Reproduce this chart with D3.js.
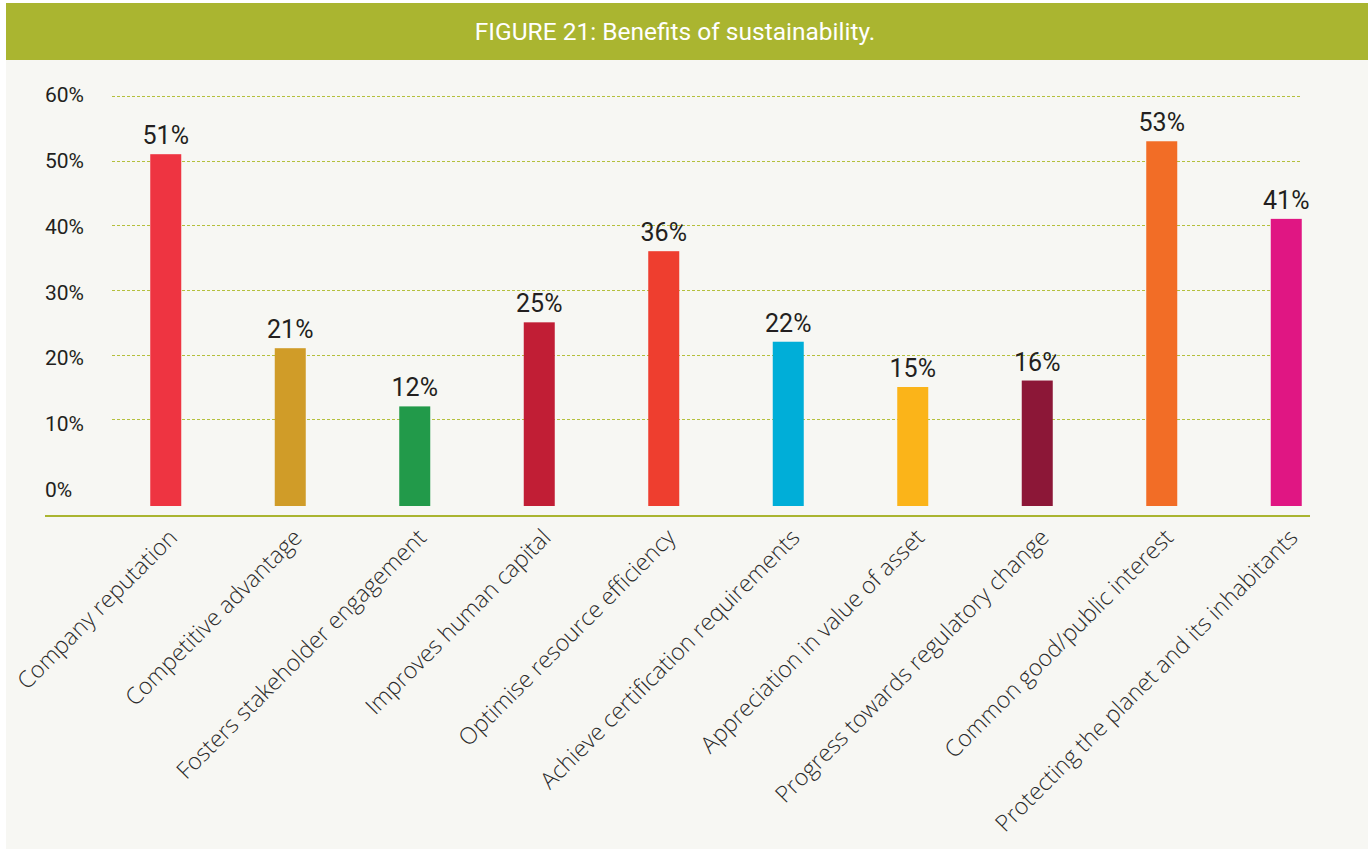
<!DOCTYPE html>
<html>
<head>
    <title>Benefits of sustainability</title>
    <style>
        body {
            margin: 0;
            background: #fff;
        }
        .grid line {
            stroke: #b4c03c;
            stroke-width: 1;
            stroke-dasharray: 3, 2;
        }
        .tick-label {
            font-family: Roboto, sans-serif;
            font-size: 21px;
            fill: #231f20;
        }
        .value-label {
            font-family: Roboto, sans-serif;
            font-size: 25px;
            fill: #231f20;
        }
        .cat-label {
            font-family: "Open Sans", sans-serif;
            font-weight: 300;
            font-size: 23.2px;
            fill: #2b2b2b;
        }
    </style>
</head>
<body>
    <div id="chart"></div>

    <script src="https://d3js.org/d3.v7.min.js"></script>
    <script>
        // chart data
        var categories = [
            "Company reputation",
            "Competitive advantage",
            "Fosters stakeholder engagement",
            "Improves human capital",
            "Optimise resource efficiency",
            "Achieve certification requirements",
            "Appreciation in value of asset",
            "Progress towards regulatory change",
            "Common good/public interest",
            "Protecting the planet and its inhabitants"
        ];
        var values = [51, 21, 12, 25, 36, 22, 15, 16, 53, 41];
        var barColors = ["#ee3441", "#d09c28", "#229a4a", "#c11e35", "#ee3e2f",
                         "#00aed8", "#fbb419", "#8c1737", "#f26d26", "#e01683"];
        var yTicks = [0, 10, 20, 30, 40, 50, 60];

        var width = 1370;
        var height = 849;

        var svg = d3.select("#chart")
            .append("svg")
            .attr("width", width)
            .attr("height", height);

        // panel + header
        svg.append("rect")
            .attr("x", 6).attr("y", 3)
            .attr("width", 1362).attr("height", 846)
            .attr("fill", "#f7f7f3");
        svg.append("rect")
            .attr("x", 6).attr("y", 3)
            .attr("width", 1362).attr("height", 57)
            .attr("fill", "#aab530");
        svg.append("text")
            .attr("x", 675).attr("y", 40)
            .attr("text-anchor", "middle")
            .style("font-family", "Roboto, sans-serif")
            .style("font-size", "24.5px")
            .style("fill", "#fff")
            .text("FIGURE 21: Benefits of sustainability.");

        var y = d3.scaleLinear().domain([0, 60]).range([484, 96]);
        // tick labels sit slightly off the grid in the original
        var yLabel = d3.scaleLinear().domain([0, 60]).range([497, 102]);

        var x = d3.scaleBand()
            .domain(categories)
            .range([88, 1364])
            .paddingInner(0.751)
            .paddingOuter(0.5);

        var baseY = y(0) + 22;

        // gridlines
        svg.append("g")
            .attr("class", "grid")
            .selectAll("line")
            .data(yTicks.filter(function (d) { return d > 0; }))
            .enter().append("line")
            .attr("x1", 112).attr("x2", 1302)
            .attr("y1", function (d) { return Math.round(y(d)) + 0.5; })
            .attr("y2", function (d) { return Math.round(y(d)) + 0.5; });

        svg.selectAll(".tick-label")
            .data(yTicks)
            .enter().append("text")
            .attr("class", "tick-label")
            .attr("x", 45)
            .attr("y", function (d) { return yLabel(d); })
            .text(function (d) { return d + "%"; });

        // bars
        svg.selectAll(".bar")
            .data(values)
            .enter().append("rect")
            .attr("class", "bar")
            .attr("x", function (d, i) { return x(categories[i]); })
            .attr("width", x.bandwidth())
            .attr("y", function (d) { return y(d); })
            .attr("height", function (d) { return baseY - y(d); })
            .attr("fill", function (d, i) { return barColors[i]; });

        svg.selectAll(".value-label")
            .data(values)
            .enter().append("text")
            .attr("class", "value-label")
            .attr("text-anchor", "middle")
            .attr("x", function (d, i) { return x(categories[i]) + x.bandwidth() / 2; })
            .attr("y", function (d) { return y(d) - 10; })
            .text(function (d) { return d + "%"; });

        // axis line
        svg.append("line")
            .attr("x1", 45).attr("x2", 1310)
            .attr("y1", 516).attr("y2", 516)
            .attr("stroke", "#aab530")
            .attr("stroke-width", 2);

        svg.selectAll(".cat-label")
            .data(categories)
            .enter().append("text")
            .attr("class", "cat-label")
            .attr("text-anchor", "end")
            .attr("transform", function (d) {
                var cx = x(d) + x.bandwidth() / 2 + 13;
                return "translate(" + cx + ",539) rotate(-45)";
            })
            .text(function (d) { return d; });
    </script>
</body>
</html>
